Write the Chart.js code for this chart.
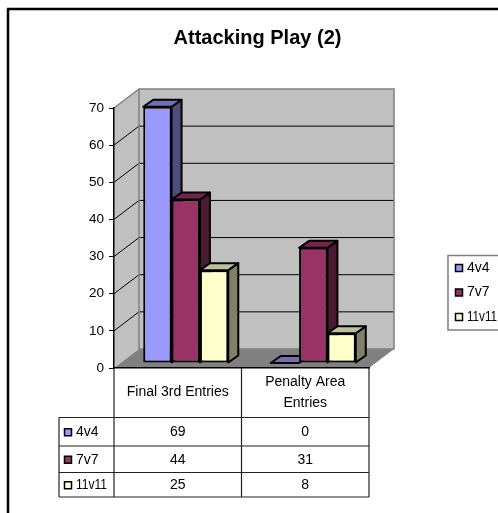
<!DOCTYPE html>
<html>
<head>
<meta charset="utf-8">
<title>Attacking Play (2)</title>
<script src="https://cdn.jsdelivr.net/npm/chart.js@4"></script>
<style>
    html, body { margin: 0; padding: 0; background: #fff; }
    #wrap { width: 498px; height: 513px; }
</style>
</head>
<body>
<div id="wrap"><canvas id="attackChart" width="498" height="513"></canvas></div>
<script>
const chartTitle = 'Attacking Play (2)';
const categories = ['Final 3rd Entries', ['Penalty Area', 'Entries']];
const seriesNames = ['4v4', '7v7', '11v11'];
const values4v4 = [69, 0];
const values7v7 = [44, 31];
const values11v11 = [25, 8];
const yTicks = [0, 10, 20, 30, 40, 50, 60, 70];

const frontColors = ['#9999FF', '#993366', '#FFFFCC'];
const sideColors = ['#4D4D80', '#4D1A33', '#808066'];
const topColors = ['#6F6FB8', '#73264D', '#BFBF99'];

const FONT = '"Liberation Sans", Arial, sans-serif';
const WALL = { dx: 25, dy: -19 };
const BAR_SHIFT = { dx: 8, dy: -5 };
const BAR_DEPTH = { dx: 10, dy: -7 };
const TABLE = { left: 59, rowTops: [417.5, 446, 472.5, 497] };
const LEGEND = { left: 448, top: 255.5, bottom: 330, keyX: 455.5, textX: 467, rowY: [268, 292.5, 317] };

function poly(ctx, pts, fill, stroke, width) {
    ctx.beginPath();
    pts.forEach((p, i) => i ? ctx.lineTo(p[0], p[1]) : ctx.moveTo(p[0], p[1]));
    ctx.closePath();
    if (fill) { ctx.fillStyle = fill; ctx.fill(); }
    if (stroke) { ctx.strokeStyle = stroke; ctx.lineWidth = width; ctx.stroke(); }
}

function line(ctx, x1, y1, x2, y2, color, width) {
    ctx.beginPath();
    ctx.moveTo(x1, y1);
    ctx.lineTo(x2, y2);
    ctx.strokeStyle = color;
    ctx.lineWidth = width;
    ctx.stroke();
}

function legendKey(ctx, x, cy, color) {
    ctx.fillStyle = color;
    ctx.fillRect(x, cy - 3.5, 7, 7);
    ctx.strokeStyle = '#000';
    ctx.lineWidth = 1.5;
    ctx.strokeRect(x, cy - 3.5, 7, 7);
}

// Walls, floor, table, legend and frame go under the axes; bar sides go under the bar fronts
const box3d = {
    id: 'box3d',
    beforeDraw(chart) {
        const { ctx, chartArea: a, scales: { x, y } } = chart;
        ctx.save();
        ctx.fillStyle = '#fff';
        ctx.fillRect(0, 0, chart.width, chart.height);

        // outer frame, cut off on the right and at the bottom
        line(ctx, 8, 9, 8, 513, '#000', 2.5);
        line(ctx, 7, 9, 498, 9, '#000', 2.5);

        const back = {
            left: a.left + WALL.dx, right: a.right + WALL.dx,
            top: a.top + WALL.dy, bottom: a.bottom + WALL.dy
        };
        poly(ctx, [[a.left, a.top], [back.left, back.top], [back.left, back.bottom], [a.left, a.bottom]], '#C0C0C0');
        poly(ctx, [[back.left, back.top], [back.right, back.top], [back.right, back.bottom], [back.left, back.bottom]], '#C0C0C0');
        poly(ctx, [[a.left, a.bottom], [a.right, a.bottom], [back.right, back.bottom], [back.left, back.bottom]], '#808080');

        yTicks.slice(1, -1).forEach(v => {
            const py = y.getPixelForValue(v);
            line(ctx, a.left, py, back.left, py + WALL.dy, '#000', 1);
            line(ctx, back.left, py + WALL.dy, back.right, py + WALL.dy, '#000', 1);
        });
        const topY = y.getPixelForValue(yTicks[yTicks.length - 1]);
        line(ctx, a.left, topY, back.left, topY + WALL.dy, '#808080', 1.5);
        poly(ctx, [[back.left, back.top], [back.right, back.top], [back.right, back.bottom], [back.left, back.bottom]], null, '#808080', 1.5);

        // data table
        const rows = TABLE.rowTops;
        const tableBottom = rows[rows.length - 1];
        const mid = (x.getPixelForTick(0) + x.getPixelForTick(1)) / 2;
        [a.left, mid, a.right].forEach(px => line(ctx, px, a.bottom, px, tableBottom, '#222', 1.2));
        line(ctx, TABLE.left, rows[0], TABLE.left, tableBottom, '#222', 1.2);
        rows.forEach(ry => line(ctx, TABLE.left, ry, a.right, ry, '#222', 1.2));

        const series = chart.data.datasets;
        ctx.font = '14px ' + FONT;
        ctx.textBaseline = 'middle';
        series.forEach((ds, r) => {
            const cy = (rows[r] + rows[r + 1]) / 2 + 0.5;
            legendKey(ctx, 64.5, cy, ds.backgroundColor);
            ctx.fillStyle = '#000';
            ctx.textAlign = 'left';
            ctx.fillText(ds.label, 76, cy, 31);
            ctx.textAlign = 'center';
            ds.data.forEach((v, c) => ctx.fillText(String(v), x.getPixelForTick(c), cy));
        });

        // legend, its right side runs off the picture
        poly(ctx, [[LEGEND.left, LEGEND.top], [499, LEGEND.top], [499, LEGEND.bottom], [LEGEND.left, LEGEND.bottom]], '#fff', '#808080', 1.5);
        ctx.textAlign = 'left';
        series.forEach((ds, r) => {
            legendKey(ctx, LEGEND.keyX, LEGEND.rowY[r], ds.backgroundColor);
            ctx.fillStyle = '#000';
            ctx.fillText(ds.label, LEGEND.textX, LEGEND.rowY[r], 30);
        });
        ctx.restore();
    },
    beforeDatasetsDraw(chart) {
        const { ctx } = chart;
        ctx.save();
        ctx.translate(BAR_SHIFT.dx, BAR_SHIFT.dy);
        ctx.lineJoin = 'round';
        // series are walked left to right so later sides cover earlier ones
        chart.data.datasets.forEach((ds, i) => {
            chart.getDatasetMeta(i).data.forEach(bar => {
                const { x, y, base, width } = bar.getProps(['x', 'y', 'base', 'width'], true);
                const l = x - width / 2;
                const r = x + width / 2;
                const dx = BAR_DEPTH.dx;
                const dy = BAR_DEPTH.dy;
                if (base - y > 0) {
                    poly(ctx, [[r, y], [r + dx, y + dy], [r + dx, base + dy], [r, base]], sideColors[i], '#000', 2);
                }
                poly(ctx, [[l, y], [l + dx, y + dy], [r + dx, y + dy], [r, y]], topColors[i], '#000', 2);
            });
        });
    },
    afterDatasetsDraw(chart) {
        chart.ctx.restore();
    }
};

function makeSeries(i, data) {
    return {
        label: seriesNames[i],
        data: data,
        backgroundColor: frontColors[i],
        borderColor: '#000',
        borderWidth: 2,
        borderSkipped: false,
        barPercentage: 1,
        categoryPercentage: 0.667,
        clip: false
    };
}

new Chart(document.getElementById('attackChart'), {
    type: 'bar',
    data: {
        labels: categories,
        datasets: [makeSeries(0, values4v4), makeSeries(1, values7v7), makeSeries(2, values11v11)]
    },
    plugins: [box3d],
    options: {
        responsive: false,
        animation: false,
        layout: { padding: { left: 17, top: 26, right: 0, bottom: 0 } },
        plugins: {
            tooltip: { enabled: false },
            legend: { display: false },
            title: {
                display: true,
                text: chartTitle,
                color: '#000',
                font: { family: FONT, size: 20, weight: 'bold', lineHeight: 1.2 },
                padding: { top: 0, bottom: 58 }
            }
        },
        scales: {
            x: {
                grid: { display: false },
                border: { color: '#000', width: 1.5 },
                afterFit(scale) { scale.height = 145; },
                ticks: {
                    color: '#000',
                    autoSkip: false,
                    maxRotation: 0,
                    crossAlign: 'center',
                    padding: 6,
                    font: { family: FONT, size: 14, lineHeight: 1.5 }
                }
            },
            y: {
                min: 0,
                max: 70,
                afterFit(scale) { scale.width = 97; },
                afterBuildTicks(scale) { scale.ticks = yTicks.map(v => ({ value: v })); },
                grid: { drawOnChartArea: false, tickLength: 5, tickColor: '#000', tickWidth: 1 },
                border: { color: '#000', width: 1.5 },
                ticks: {
                    color: '#000',
                    padding: 5,
                    font: { family: FONT, size: 13.5 }
                }
            },
            // empty axis, only keeps the room between plot and picture edge
            spacer: {
                type: 'linear',
                position: 'right',
                display: true,
                grid: { display: false },
                border: { display: false },
                ticks: { display: false },
                afterFit(scale) { scale.width = 129; }
            }
        }
    }
});
</script>
</body>
</html>
